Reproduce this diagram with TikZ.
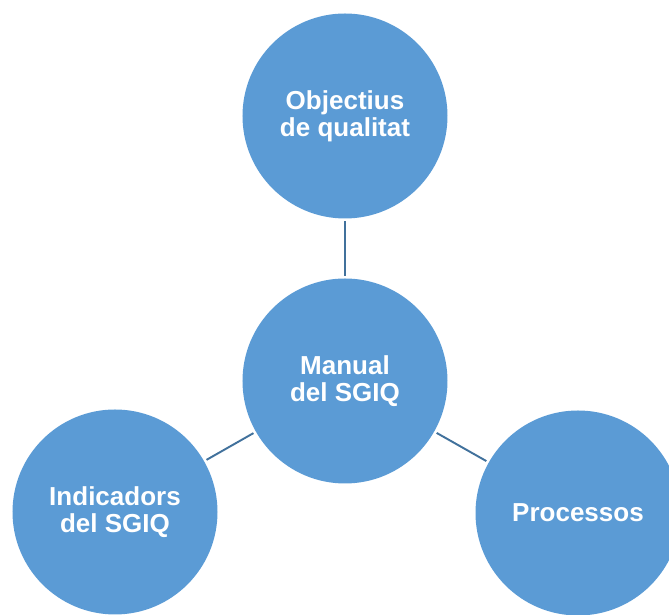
\documentclass[tikz,border=0pt]{standalone}
\usepackage{fontspec}
\setmainfont{Liberation Sans}
\usepackage{tikz}
\usetikzlibrary{
    positioning,           % Relative positioning
    shapes.geometric       % Geometric shapes
}
\definecolor{bubblefill}{HTML}{5B9BD5}
\definecolor{linkline}{HTML}{41719C}
\tikzset{bubble/.style={
    circle, fill=bubblefill, draw=none, minimum size=4.1cm, inner sep=0pt,
    text=white, align=center, font=\bfseries\fontsize{14.8}{15.5}\selectfont
}}
\tikzset{link/.style={
    draw=linkline, line width=1.1pt, shorten >=0.05cm, shorten <=0.05cm
}}

\begin{document}
\begin{tikzpicture}
    \useasboundingbox (0,0) rectangle (13.38,12.3);
    \node[bubble] (manual) at (6.90,4.68) {Manual\\del SGIQ};
    \node[bubble] (objectius) at (6.90,9.98) {Objectius\\de qualitat};
    \node[bubble] (indicadors) at (2.30,2.06) {Indicadors\\del SGIQ};
    \node[bubble] (processos) at (11.56,2.04) {Processos};
    \draw[link] (manual) -- (objectius);
    \draw[link] (manual) -- (indicadors);
    \draw[link] (manual) -- (processos);
\end{tikzpicture}
\end{document}
